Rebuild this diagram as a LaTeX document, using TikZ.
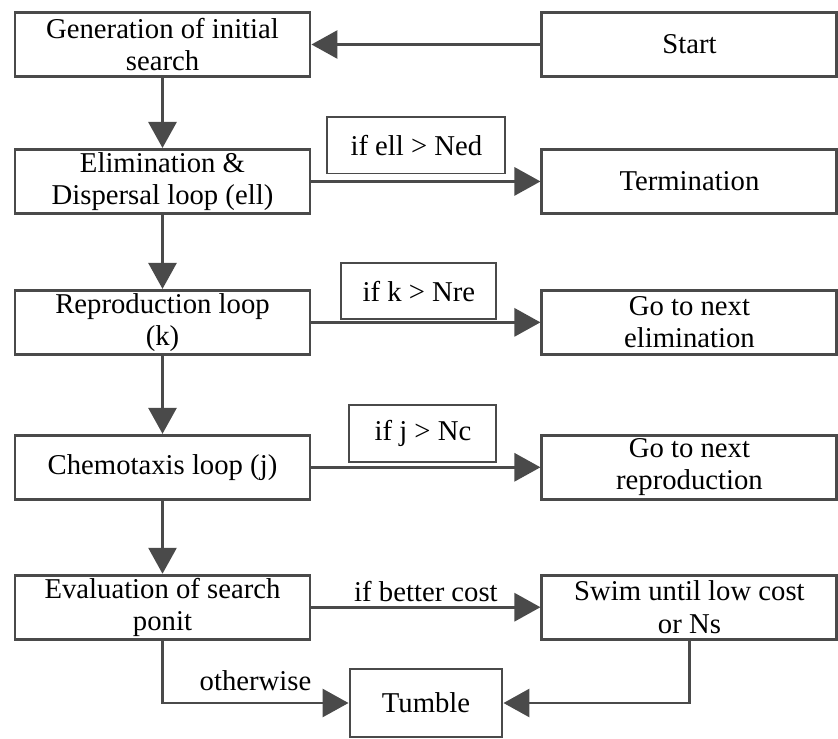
\documentclass[tikz,border=0pt]{standalone}
\usepackage{fontspec}
\setmainfont{Liberation Serif}
\usetikzlibrary{arrows.meta,positioning}
\definecolor{lngray}{HTML}{4A4A4A}
\tikzset{
  block/.style = {draw=lngray, line width=2.5pt, rectangle, minimum width=8.85cm,
                  minimum height=1.92cm, align=center, inner sep=1pt},
  cond/.style  = {draw=lngray, line width=1.6pt, rectangle, minimum height=1.7cm,
                  inner sep=2pt},
  sig/.style   = {-{Triangle[length=0.78cm,width=0.84cm]}, line width=2.5pt, draw=lngray},
}
\begin{document}
\begin{tikzpicture}[font=\fontsize{24.5}{27.5}\selectfont]
\useasboundingbox (0,0) rectangle (25.14,-22.17);
% left column
\node[block] (gen) at (4.875,-1.335) {Generation of initial\\search};
\node[block, below=2.10cm of gen] (elim) {Elimination \&\\Dispersal loop (ell)};
\node[block, below=2.22cm of elim] (repro) {Reproduction loop\\(k)};
\node[block, below=2.34cm of repro] (chemo) {Chemotaxis loop (j)};
\node[block, below=2.19cm of chemo] (eval) {Evaluation of search\\ponit};
% right column
\node[block, right=6.87cm of gen] (start) {Start};
\node[block, right=6.87cm of elim] (term) {Termination};
\node[block, right=6.87cm of repro] (nelim) {Go to next\\elimination};
\node[block, right=6.87cm of chemo] (nrepro) {Go to next\\reproduction};
\node[block, right=6.87cm of eval] (swim) {Swim until low cost\\or Ns};
\node[block, minimum width=4.56cm, minimum height=2.04cm] (tumble) at (12.78,-21.09) {Tumble};
% loop conditions
\node[cond, minimum width=5.34cm, above right=0.21cm and 0.45cm of elim.east] (cell) {if ell > Ned};
\node[cond, minimum width=4.65cm, above right=0.06cm and 0.87cm of repro.east] (ck) {if k > Nre};
\node[cond, minimum width=4.41cm, above right=0.13cm and 1.11cm of chemo.east] (cj) {if j > Nc};
% connectors
\draw[sig] (start) -- (gen);
\draw[sig] (gen) -- (elim);
\draw[sig] (elim) -- (repro);
\draw[sig] (repro) -- (chemo);
\draw[sig] (chemo) -- (eval);
\draw[sig] (elim) -- (term);
\draw[sig] (repro) -- (nelim);
\draw[sig] (chemo) -- (nrepro);
\draw[sig] (eval) -- node[above] {if better cost} (swim);
\draw[sig] (eval) |- node[pos=0.75, above=6pt] {otherwise} (tumble);
\draw[sig] (swim) |- (tumble);
\end{tikzpicture}
\end{document}
